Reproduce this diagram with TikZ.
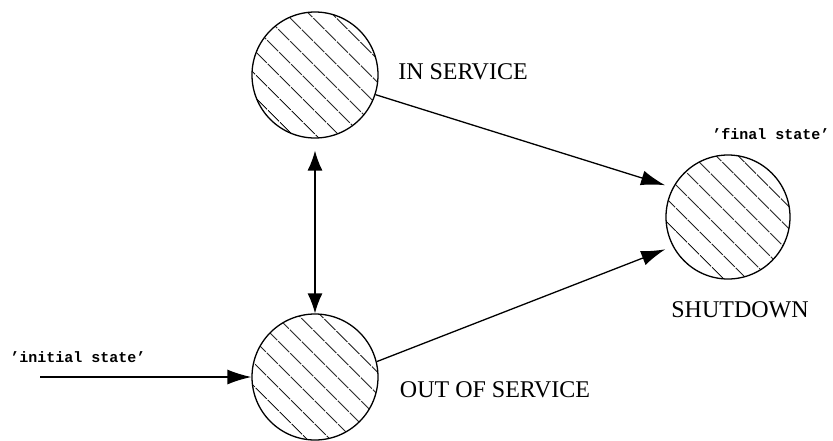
\documentclass[tikz,border=0pt]{standalone}
\usepackage{fontspec}
\setmainfont{Liberation Serif}
\newfontfamily\tagfont{Liberation Mono}
\usetikzlibrary{arrows.meta,patterns.meta}

\begin{document}
\begin{tikzpicture}[x=1pt,y=-1pt,
		state/.style={circle, draw, line width=1.3pt, minimum size=126pt, inner sep=0pt,
			pattern={Lines[angle=-45,distance=17pt,line width=1.2pt]}},
		statelbl/.style={font=\fontsize{24}{28}\selectfont},
		quotelbl/.style={font=\tagfont\bfseries\fontsize{15}{17}\selectfont},
		arr/.style={-{Latex[length=24pt,width=15pt]}, line width=1.3pt}]
			\useasboundingbox (0,0) rectangle (833,440);
			
			% the three states
			\node[state] (insvc) at (315,75) {};
			\node[state] (outsvc) at (315,377) {};
			\node[state, minimum size=124pt] (shutdown) at (728,217) {};
			
			\node[statelbl] (insvclbl) at (463,72) {IN SERVICE};
			\node[statelbl] (outsvclbl) at (495,390) {OUT OF SERVICE};
			\node[statelbl] (shutdownlbl) at (740,310) {SHUTDOWN};
			\node[quotelbl] (finaltag) at (771,134) {’final state’};
			\node[quotelbl] (inittag) at (78,357) {’initial state’};
			
			% transitions
			\coordinate (start) at (40,377);
			\draw[arr] (start) -- (outsvc);
			\draw[arr, {Latex[length=20pt,width=15pt]}-{Latex[length=20pt,width=15pt]}, shorten <=12pt] (insvc) -- (outsvc);
			\draw[arr, shorten >=8pt] (insvc.-18) -- (shutdown.152);
			\draw[arr, shorten >=8pt] (outsvc.14) -- (shutdown.208);
		\end{tikzpicture}
\end{document}
